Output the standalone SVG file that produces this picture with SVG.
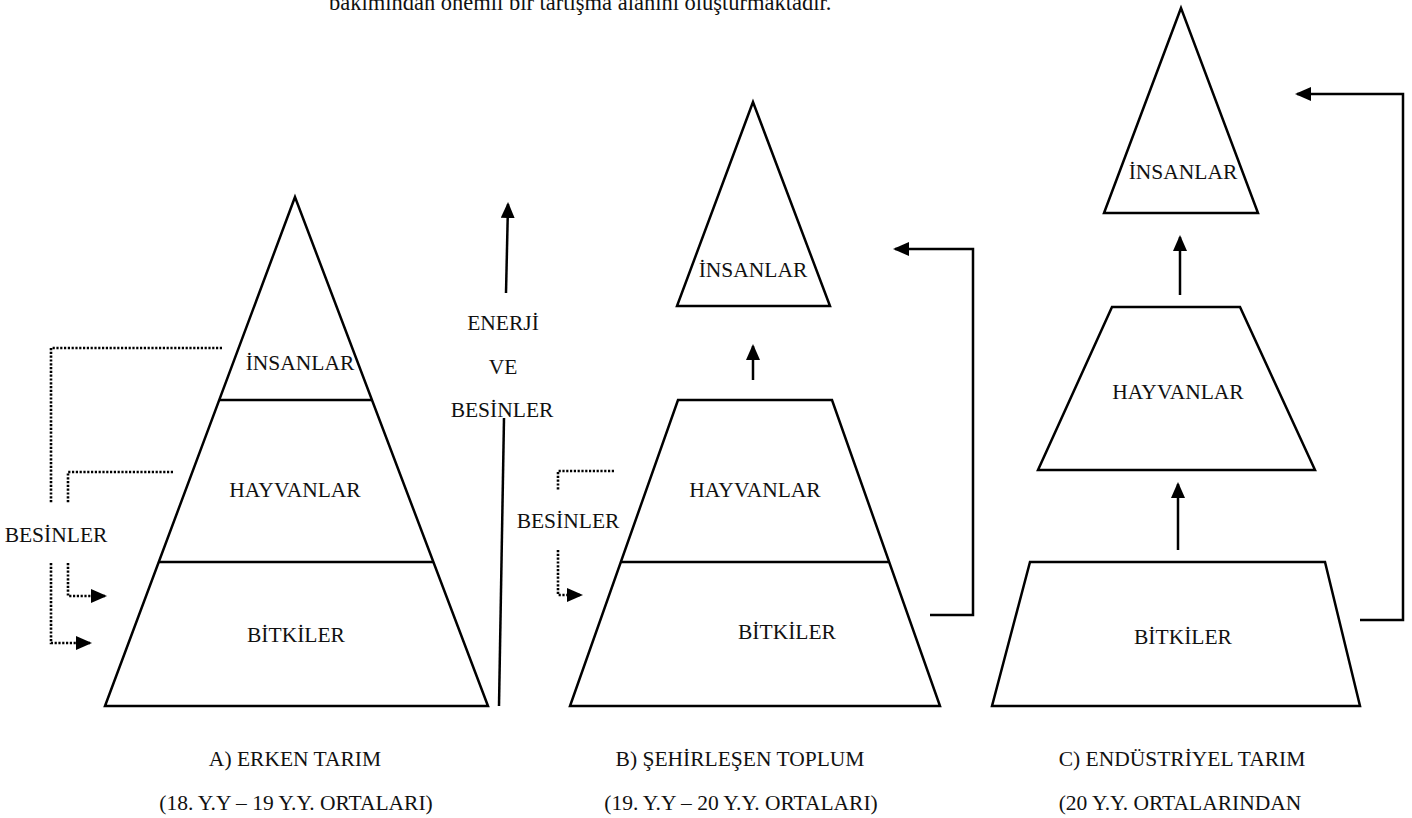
<svg xmlns="http://www.w3.org/2000/svg" width="1412" height="818" viewBox="0 0 1412 818">
<style>
.shape{fill:none;stroke:#000;stroke-width:2.5;stroke-linejoin:miter}
.lbl{font-family:"Liberation Serif","Times New Roman",serif;font-size:21.5px;fill:#111;text-anchor:middle}
.head{font-family:"Liberation Serif","Times New Roman",serif;font-size:22.5px;fill:#111}
.solid{fill:none;stroke:#000;stroke-width:2.5}
.dot{fill:none;stroke:#000;stroke-width:2.6;stroke-dasharray:2.2 1.6}
</style>
<defs>
<marker id="ah" viewBox="0 0 16 14" refX="14" refY="7" markerWidth="16" markerHeight="14" markerUnits="userSpaceOnUse" orient="auto">
<path d="M0,0 L16,7 L0,14 Z" fill="#000"/>
</marker>
</defs>
<rect width="1412" height="818" fill="#fff"/>
<text class="head" x="329" y="10">bakımından önemli bir tartışma alanını oluşturmaktadır.</text>

<g id="pyramidA">
<path class="shape" d="M295,197 L105,706 L488,706 Z"/>
<line class="shape" x1="219" y1="400" x2="372" y2="400"/>
<line class="shape" x1="159" y1="562" x2="433" y2="562"/>
<text class="lbl" x="300" y="370">İNSANLAR</text>
<text class="lbl" x="295" y="497">HAYVANLAR</text>
<text class="lbl" x="296" y="642">BİTKİLER</text>
<text class="lbl" x="295" y="766">A) ERKEN TARIM</text>
<text class="lbl" x="296" y="810">(18. Y.Y – 19 Y.Y. ORTALARI)</text>
</g>

<g id="labelA">
<text class="lbl" x="56" y="542">BESİNLER</text>
</g>

<g id="labelMid">
<text class="lbl" x="503" y="330">ENERJİ</text>
<text class="lbl" x="503" y="374">VE</text>
<text class="lbl" x="502" y="417">BESİNLER</text>
</g>

<g id="pyramidB">
<path class="shape" d="M753,102 L677,306 L830,306 Z"/>
<text class="lbl" x="753" y="277">İNSANLAR</text>
<path class="shape" d="M678,400 L832,400 L940,706 L570,706 Z"/>
<line class="shape" x1="621" y1="562" x2="889" y2="562"/>
<text class="lbl" x="755" y="497">HAYVANLAR</text>
<text class="lbl" x="787" y="639">BİTKİLER</text>
<text class="lbl" x="740" y="766">B) ŞEHİRLEŞEN TOPLUM</text>
<text class="lbl" x="741" y="810">(19. Y.Y – 20 Y.Y. ORTALARI)</text>
</g>

<g id="labelB">
<text class="lbl" x="568" y="528">BESİNLER</text>
</g>

<g id="pyramidC">
<path class="shape" d="M1181,8 L1104,213 L1258,213 Z"/>
<text class="lbl" x="1183" y="179">İNSANLAR</text>
<path class="shape" d="M1112,307 L1240,307 L1315,470 L1038,470 Z"/>
<text class="lbl" x="1178" y="399">HAYVANLAR</text>
<path class="shape" d="M1030,562 L1325,562 L1360,706 L992,706 Z"/>
<text class="lbl" x="1183" y="644">BİTKİLER</text>
<text class="lbl" x="1182" y="766">C) ENDÜSTRİYEL TARIM</text>
<text class="lbl" x="1180" y="810">(20 Y.Y. ORTALARINDAN</text>
</g>

<g id="connectors">
<path class="dot" d="M222,348 H51 V503"/>
<path class="dot" d="M51,563 V643 H90" marker-end="url(#ah)"/>
<path class="dot" d="M173,472 H68 V503"/>
<path class="dot" d="M68,563 V596 H105" marker-end="url(#ah)"/>
<path class="dot" d="M614,471 H558 V490"/>
<path class="dot" d="M558,550 V595 H581" marker-end="url(#ah)"/>
<path class="solid" d="M499,706 L504,418"/>
<path class="solid" d="M506,293 L508,204" marker-end="url(#ah)"/>
<path class="solid" d="M753,380 V346" marker-end="url(#ah)"/>
<path class="solid" d="M930,615 H973 V249 H895" marker-end="url(#ah)"/>
<path class="solid" d="M1180,295 V237" marker-end="url(#ah)"/>
<path class="solid" d="M1178,550 V484" marker-end="url(#ah)"/>
<path class="solid" d="M1360,620 H1403 V94 H1297" marker-end="url(#ah)"/>
</g>
</svg>
